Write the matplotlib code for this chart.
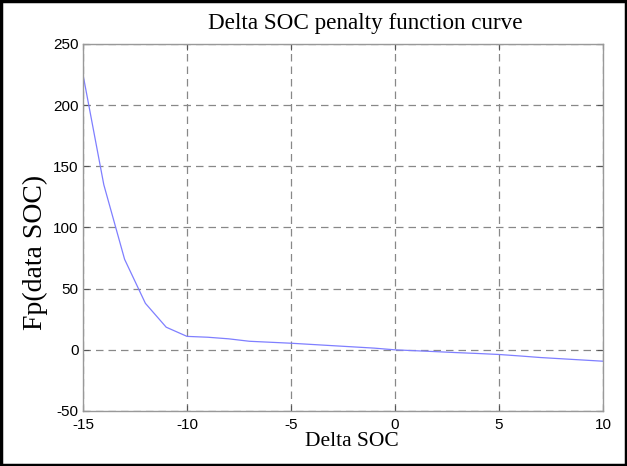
import matplotlib
matplotlib.use("Agg")
import matplotlib.pyplot as plt
from matplotlib.patches import Rectangle

plt.rcParams["axes.unicode_minus"] = False

delta_soc = [-15, -14, -13, -12, -11, -10, -9, -8, -7, -6, -5, -4, -3, -2, -1,
             0, 1, 2, 3, 4, 5, 6, 7, 8, 9, 10]
penalty = [225, 135, 74, 38, 18.5, 11, 10.3, 9, 7, 6.2, 5.4, 4.4, 3.4, 2.4, 1.4,
           0, -0.75, -1.5, -2.3, -3.0, -3.8, -5.0, -6.3, -7.3, -8.3, -9.3]
x_ticks = [-15, -10, -5, 0, 5, 10]
y_ticks = [-50, 0, 50, 100, 150, 200, 250]

fig = plt.figure(figsize=(6.27, 4.66), dpi=100)
ax = fig.add_axes([83/627, 1-411/466, (603-83)/627, (411-44)/466])

ax.plot(delta_soc, penalty, color="#7f7fff", lw=0.9)
ax.set_xlim(-15, 10)
ax.set_ylim(-50, 250)
ax.set_xticks(x_ticks)
ax.set_yticks(y_ticks)
ax.grid(True, color="#888888", linestyle=(0, (6, 4)), lw=0.9)
ax.tick_params(direction="in", top=True, right=True, length=4, color="#555555",
               labelsize=11)
ax.tick_params(axis="x", pad=5)
ax.tick_params(axis="y", pad=3)
for lab in ax.get_xticklabels() + ax.get_yticklabels():
    lab.set_family("Liberation Sans")
for s in ax.spines.values():
    s.set_color("#999999")
    s.set_linewidth(1.0)

fig.text(365/627, 1-24/466, "Delta SOC penalty function curve", family="Liberation Serif",
         fontsize=16.7, ha="center", va="center")
fig.text(352/627, 1-441/466, "Delta SOC", family="Liberation Serif",
         fontsize=15.5, ha="center", va="center")
fig.text(35/627, 1-252/466, "Fp(data SOC)", family="Liberation Serif",
         fontsize=20, ha="center", va="center", rotation=90)

fig.patches.append(Rectangle((0.002, 0.003), 0.996, 0.994, transform=fig.transFigure,
                             fill=False, edgecolor="black", lw=2.5))

fig.savefig("out.png", dpi=100)
